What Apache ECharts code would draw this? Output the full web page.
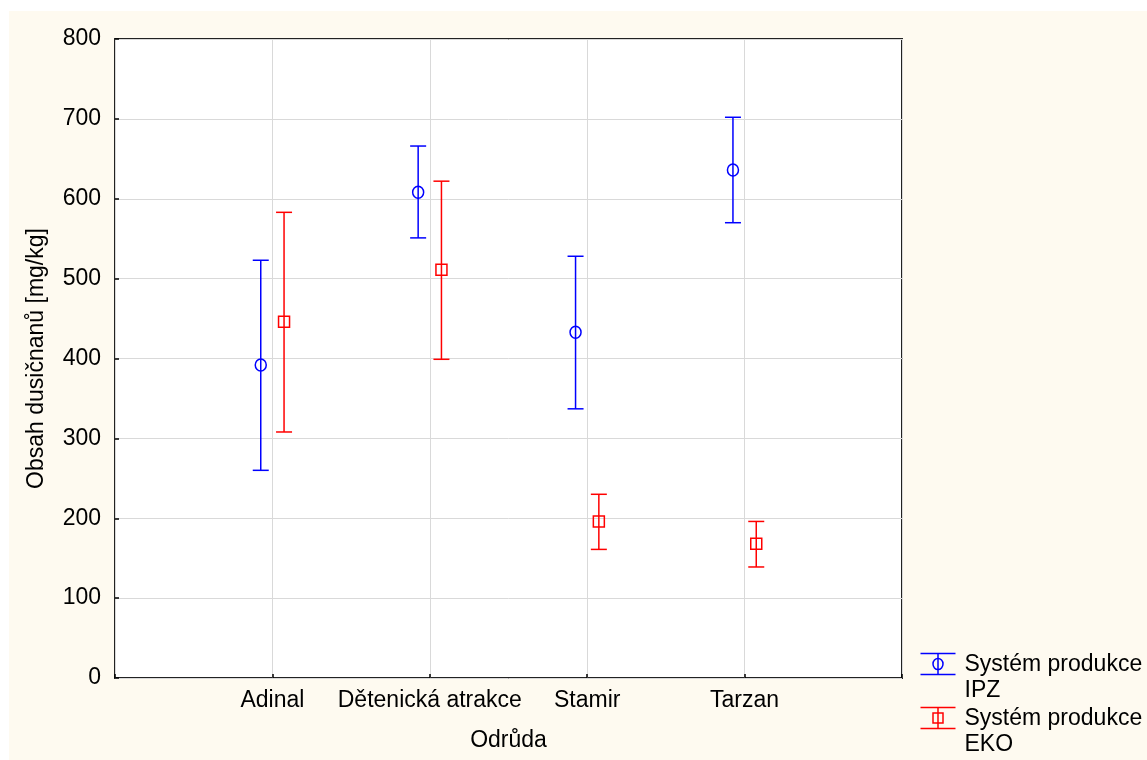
<!DOCTYPE html>
<html>
<head>
<meta charset="utf-8">
<script src="https://cdn.jsdelivr.net/npm/echarts@6/dist/echarts.min.js"></script>
<style>
  html, body { margin: 0; padding: 0; background: #ffffff; }
  #chart { width: 1147px; height: 760px; }
</style>
</head>
<body>
<div id="chart"></div>
<script>
// Nitrate content by cultivar: mean with confidence interval, two production systems
const categories = ['Adinal', 'Dětenická atrakce', 'Stamir', 'Tarzan'];

const ipzMean = [392, 608, 433, 636];
const ipzLow  = [260, 551, 337, 570];
const ipzHigh = [523, 666, 528, 702];

const ekoMean = [446, 511, 196, 168];
const ekoLow  = [308, 399, 161, 139];
const ekoHigh = [583, 622, 230, 196];

const seriesNames = ['Systém produkce IPZ', 'Systém produkce EKO'];
const yAxisName = 'Obsah dusičnanů [mg/kg]';
const xAxisName = 'Odrůda';

const FONT = '"Liberation Sans", Arial, sans-serif';
const FS = 23;
const BLUE = '#0000ff';
const RED = '#ff0000';

function rows(mean, low, high) {
  return categories.map((c, i) => [i + 1, low[i], mean[i], high[i]]);
}

function errorBarRenderer(color, dodge, marker) {
  return function (params, api) {
    const x = api.value(0) + dodge;
    const pHi = api.coord([x, api.value(3)]);
    const pLo = api.coord([x, api.value(1)]);
    const pM = api.coord([x, api.value(2)]);
    const cap = 8;
    const st = { stroke: color, lineWidth: 1.5, fill: null };
    const children = [
      { type: 'line', shape: { x1: pHi[0], y1: pHi[1], x2: pLo[0], y2: pLo[1] }, style: st },
      { type: 'line', shape: { x1: pHi[0] - cap, y1: pHi[1], x2: pHi[0] + cap, y2: pHi[1] }, style: st },
      { type: 'line', shape: { x1: pLo[0] - cap, y1: pLo[1], x2: pLo[0] + cap, y2: pLo[1] }, style: st }
    ];
    if (marker === 'circle') {
      children.push({ type: 'ellipse', shape: { cx: pM[0], cy: pM[1], rx: 5.5, ry: 6 }, style: st });
    } else {
      children.push({ type: 'rect', shape: { x: pM[0] - 5.5, y: pM[1] - 5.5, width: 11, height: 11 }, style: st });
    }
    return { type: 'group', children: children };
  };
}

const chart = echarts.init(document.getElementById('chart'), null, { renderer: 'canvas' });

// legend drawn as graphic: error-bar glyph plus two-line caption
function legendItem(top, color, marker, line1, line2) {
  const st = { stroke: color, lineWidth: 1.5, fill: null };
  const glyph = marker === 'circle'
    ? { type: 'ellipse', shape: { cx: 17.5, cy: 10.5, rx: 5, ry: 5.5 }, style: st }
    : { type: 'rect', shape: { x: 12.5, y: 5.5, width: 10, height: 10 }, style: st };
  return {
    type: 'group', left: 918, top: top, children: [
      { type: 'line', shape: { x1: 0, y1: 0, x2: 35, y2: 0 }, style: st },
      { type: 'line', shape: { x1: 0, y1: 21, x2: 35, y2: 21 }, style: st },
      { type: 'line', shape: { x1: 17.5, y1: 0, x2: 17.5, y2: 21 }, style: st },
      glyph,
      { type: 'text', x: 44, y: -2, style: { text: line1 + '\n' + line2, fill: '#000', font: FS + 'px ' + FONT, lineHeight: 26 } }
    ]
  };
}

chart.setOption({
  backgroundColor: '#ffffff',
  animation: false,
  graphic: [
    { type: 'rect', z: -100, shape: { x: 9, y: 11, width: 1138, height: 749 }, style: { fill: '#fefaf0' } },
    legendItem(651, BLUE, 'circle', 'Systém produkce', 'IPZ'),
    legendItem(705, RED, 'square', 'Systém produkce', 'EKO')
  ],
  grid: {
    left: 115, top: 39, right: 245, bottom: 82,
    show: true, backgroundColor: '#ffffff', borderColor: '#222222', borderWidth: 2
  },
  xAxis: {
    type: 'value', min: 0, max: 5, interval: 1,
    name: xAxisName, nameLocation: 'middle', nameGap: 51,
    nameTextStyle: { fontFamily: FONT, fontSize: FS, color: '#000' },
    axisLine: { show: false },
    axisTick: { show: true, inside: true, length: 4, lineStyle: { color: '#000', width: 1.5 } },
    axisLabel: {
      fontFamily: FONT, fontSize: FS, color: '#000', margin: 11,
      formatter: v => (v >= 1 && v <= categories.length) ? categories[v - 1] : ''
    },
    splitLine: { show: true, lineStyle: { color: '#d9d9d9', width: 1 } }
  },
  yAxis: {
    type: 'value', min: 0, max: 800, interval: 100,
    name: yAxisName, nameLocation: 'middle', nameGap: 67, nameRotate: 90,
    nameTextStyle: { fontFamily: FONT, fontSize: FS, color: '#000' },
    axisLine: { show: false },
    axisTick: { show: true, inside: true, length: 4, lineStyle: { color: '#000', width: 1.5 } },
    axisLabel: { fontFamily: FONT, fontSize: FS, color: '#000', margin: 14 },
    splitLine: { show: true, lineStyle: { color: '#d9d9d9', width: 1 } }
  },
  series: [
    {
      name: seriesNames[0], type: 'custom',
      renderItem: errorBarRenderer(BLUE, -0.074, 'circle'),
      encode: { x: 0, y: [1, 2, 3] },
      data: rows(ipzMean, ipzLow, ipzHigh)
    },
    {
      name: seriesNames[1], type: 'custom',
      renderItem: errorBarRenderer(RED, 0.074, 'square'),
      encode: { x: 0, y: [1, 2, 3] },
      data: rows(ekoMean, ekoLow, ekoHigh)
    }
  ]
});
</script>
</body>
</html>
